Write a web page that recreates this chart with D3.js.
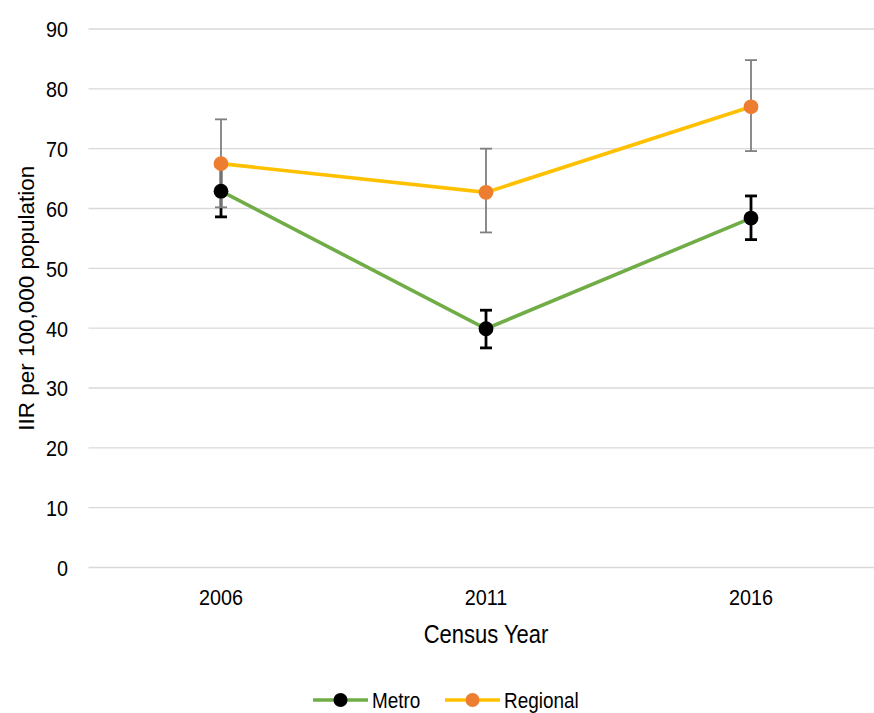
<!DOCTYPE html>
<html>
<head>
<meta charset="utf-8">
<script src="https://cdn.jsdelivr.net/npm/d3@7"></script>
<style>
  html, body { margin: 0; padding: 0; background: #fff; }
  svg { display: block; }
  text { font-family: "Liberation Sans", Arial, sans-serif; fill: #000; }
</style>
</head>
<body>
<script>
// Census years and injury incidence rates (IIR per 100,000 population)
const years = ["2006", "2011", "2016"];
const metroValues = [62.9, 39.9, 58.4];
const metroLower = [58.6, 36.7, 54.8];
const metroUpper = [67.2, 43.0, 62.1];
const regionalValues = [67.5, 62.7, 77.0];
const regionalLower = [60.2, 56.0, 69.6];
const regionalUpper = [74.9, 70.0, 84.8];
const yTicks = [0, 10, 20, 30, 40, 50, 60, 70, 80, 90];

const W = 874, H = 713;
const svg = d3.select("body").append("svg").attr("width", W).attr("height", H);

const x = d3.scaleBand().domain(years).range([88.5, 883.5]);
const cx = d => x(d) + x.bandwidth() / 2;
const y = d3.scaleLinear().domain([0, 90]).range([567.5, 29]);

// condensed text look
const narrow = "scale(0.9,1)";

// horizontal gridlines
svg.append("g").selectAll("line").data(yTicks).join("line")
  .attr("x1", 88.5).attr("x2", W)
  .attr("y1", d => y(d)).attr("y2", d => y(d))
  .attr("stroke", "#d9d9d9").attr("stroke-width", 1.3);

// y axis labels
const yAxis = d3.axisLeft(y).tickValues(yTicks).tickSize(0).tickPadding(0);
const gy = svg.append("g").attr("transform", "translate(68,0)").call(yAxis);
gy.select(".domain").remove();
gy.selectAll("text").attr("font-size", 22).attr("font-family", null)
  .attr("dy", "0.36em").attr("transform", narrow);

// x axis labels
const xAxis = d3.axisBottom(x).tickSize(0).tickPadding(0);
const gx = svg.append("g").attr("transform", "translate(0,589)").call(xAxis);
gx.select(".domain").remove();
gx.selectAll("text").attr("font-size", 22).attr("font-family", null)
  .attr("dy", "0.71em").attr("transform", narrow);

// axis titles
svg.append("text")
  .attr("transform", `translate(${cx("2011")},643) scale(0.88,1)`)
  .attr("text-anchor", "middle").attr("font-size", 25).text("Census Year");
svg.append("text")
  .attr("transform", `translate(34,${(y(0) + y(90)) / 2}) rotate(-90)`)
  .attr("text-anchor", "middle").attr("font-size", 22.5).text("IIR per 100,000 population");

const metro = years.map((d, i) => ({ year: d, v: metroValues[i], lo: metroLower[i], hi: metroUpper[i] }));
const regional = years.map((d, i) => ({ year: d, v: regionalValues[i], lo: regionalLower[i], hi: regionalUpper[i] }));

const line = d3.line().x(d => cx(d.year)).y(d => y(d.v));

svg.append("path").datum(metro).attr("d", line)
  .attr("fill", "none").attr("stroke", "#70ad47").attr("stroke-width", 3.6);
svg.append("path").datum(regional).attr("d", line)
  .attr("fill", "none").attr("stroke", "#ffc000").attr("stroke-width", 3.6);

function errorBars(data, color, width) {
  const g = svg.append("g").attr("stroke", color).attr("stroke-width", width);
  g.selectAll(".v").data(data).join("line")
    .attr("x1", d => cx(d.year)).attr("x2", d => cx(d.year))
    .attr("y1", d => y(d.lo)).attr("y2", d => y(d.hi));
  ["lo", "hi"].forEach(k => {
    g.selectAll(".c" + k).data(data).join("line")
      .attr("x1", d => cx(d.year) - 6).attr("x2", d => cx(d.year) + 6)
      .attr("y1", d => y(d[k])).attr("y2", d => y(d[k]));
  });
}
errorBars(metro, "#000", 2.8);
errorBars(regional, "#7f7f7f", 1.8);

svg.append("g").selectAll("circle").data(metro).join("circle")
  .attr("cx", d => cx(d.year)).attr("cy", d => y(d.v)).attr("r", 7.4).attr("fill", "#000");
svg.append("g").selectAll("circle").data(regional).join("circle")
  .attr("cx", d => cx(d.year)).attr("cy", d => y(d.v)).attr("r", 7.4).attr("fill", "#ed7d31");

// legend
const legend = [
  { name: "Metro", line: "#70ad47", dot: "#000", x0: 313 },
  { name: "Regional", line: "#ffc000", dot: "#ed7d31", x0: 445 }
];
const lg = svg.append("g").attr("transform", "translate(0,700)");
legend.forEach(e => {
  lg.append("line").attr("x1", e.x0).attr("x2", e.x0 + 55).attr("y1", 0).attr("y2", 0)
    .attr("stroke", e.line).attr("stroke-width", 3.6);
  lg.append("circle").attr("cx", e.x0 + 27.5).attr("cy", 0).attr("r", 7).attr("fill", e.dot);
  lg.append("text").attr("transform", `translate(${e.x0 + 59},0) scale(0.88,1)`)
    .attr("dy", "0.36em").attr("font-size", 21.5).text(e.name);
});
</script>
</body>
</html>
